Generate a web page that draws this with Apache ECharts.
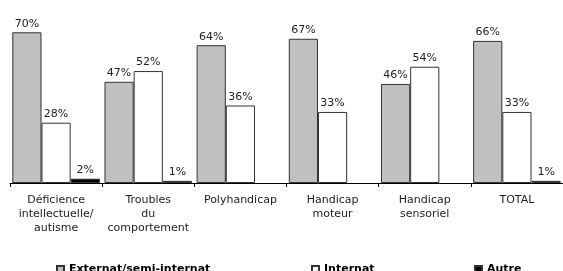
<!DOCTYPE html>
<html>
<head>
<meta charset="utf-8">
<script src="https://cdn.jsdelivr.net/npm/echarts@6/dist/echarts.min.js"></script>
<style>html,body{margin:0;padding:0;background:#fff;}#c{width:563px;height:271px;}</style>
</head>
<body>
<div id="c"></div>
<script>
const categories = ["Déficience\nintellectuelle/\nautisme", "Troubles\ndu\ncomportement", "Polyhandicap", "Handicap\nmoteur", "Handicap\nsensoriel", "TOTAL"];
const externat = [70, 47, 64, 67, 46, 66];
const internat = [28, 52, 36, 33, 54, 33];
const autre = [2, 1, null, null, null, 1];
const seriesNames = ["Externat/semi-internat", "Internat", "Autre"];

const chart = echarts.init(document.getElementById('c'));
const font = 'DejaVu Sans';
const lbl = {show: true, position: 'top', distance: 3, formatter: '{c}%', fontFamily: font, fontSize: 11, color: '#222'};
function mk(name, data, color) {
  return {
    name: name, type: 'bar', data: data, barGap: '0%', barCategoryGap: '5%',
    itemStyle: {color: color, borderColor: '#333', borderWidth: 1},
    label: lbl, animation: false
  };
}
const legendBase = {
  top: 259, itemWidth: 7, itemHeight: 7, itemGap: 5,
  textStyle: {fontFamily: font, fontSize: 11, fontWeight: 'bold', color: '#000'},
  icon: 'rect', selectedMode: false
};
chart.setOption({
  animation: false,
  grid: {left: 10, top: 0, width: 554, bottom: 88, containLabel: false},
  xAxis: {
    type: 'category', data: categories, boundaryGap: true,
    axisLine: {lineStyle: {color: '#000', width: 1}},
    axisTick: {show: true, length: 4, inside: false, lineStyle: {color: '#000'}},
    axisLabel: {interval: 0, margin: 10, fontFamily: font, fontSize: 11, color: '#222', lineHeight: 14}
  },
  yAxis: {type: 'value', min: 0, max: 85, show: false, splitLine: {show: false}},
  legend: [
    Object.assign({}, legendBase, {left: 51, data: [seriesNames[0]]}),
    Object.assign({}, legendBase, {left: 306, data: [seriesNames[1]]}),
    Object.assign({}, legendBase, {left: 469, data: [seriesNames[2]]})
  ],
  series: [mk(seriesNames[0], externat, '#c0c0c0'), mk(seriesNames[1], internat, '#ffffff'), mk(seriesNames[2], autre, '#000000')]
});
</script>
</body>
</html>
